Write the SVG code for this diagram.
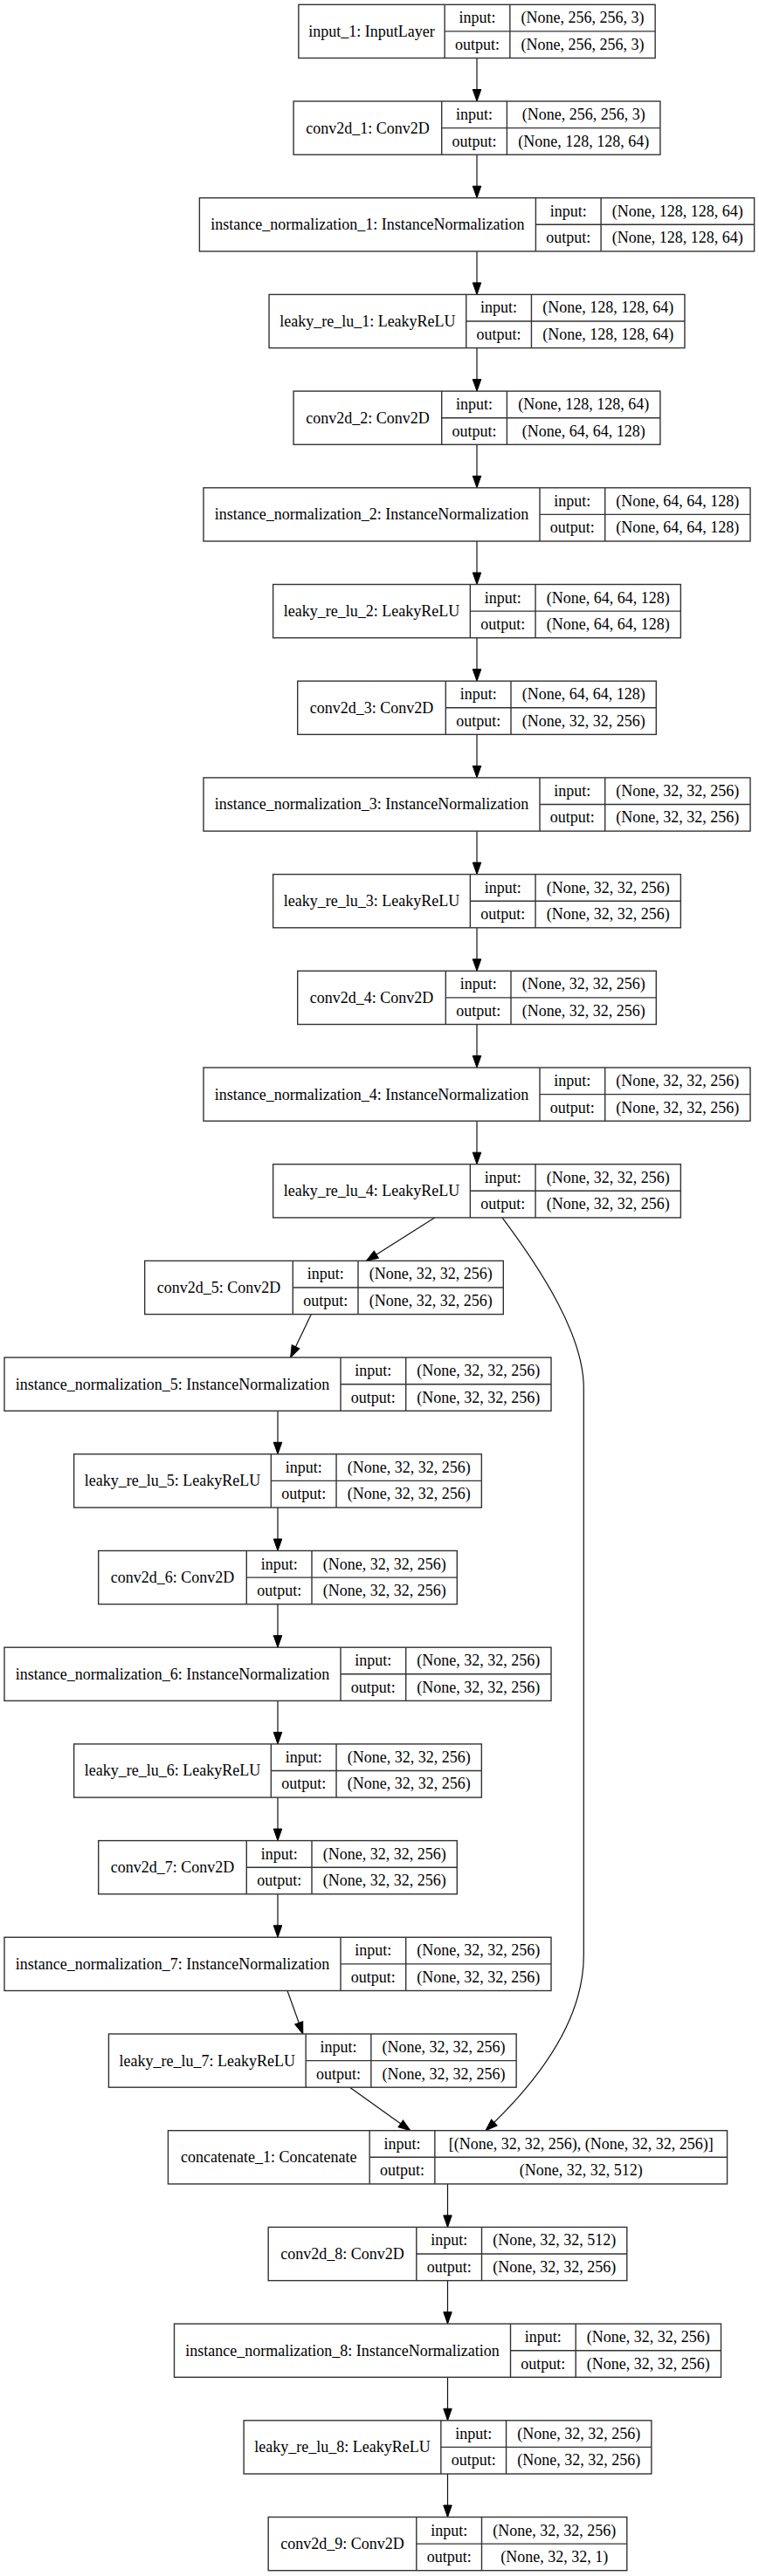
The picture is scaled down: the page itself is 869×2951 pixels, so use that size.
<svg xmlns="http://www.w3.org/2000/svg" width="869" height="2951" viewBox="0 0 869 2951">
<style>
.n rect{fill:#fff;stroke:#333;stroke-width:1.4}
.n line{stroke:#333;stroke-width:1.4}
text{font-family:"Liberation Serif","Times New Roman",serif;font-size:18px;text-anchor:middle;fill:#000}
.e{fill:none;stroke:#111;stroke-width:1.2;marker-end:url(#arr)}
</style>
<defs>
<marker id="arr" markerUnits="userSpaceOnUse" markerWidth="14" markerHeight="10" refX="13.5" refY="4.75" orient="auto" overflow="visible">
<path d="M0,0 L13.5,4.75 L0,9.5 Z" fill="#000" stroke="#000" stroke-width="1"/>
</marker>
</defs>
<rect width="869" height="2951" fill="#fff"/>
<g id="edges">
<path class="e" d="M546,66.5 V116"/>
<path class="e" d="M546,177.2 V226.7"/>
<path class="e" d="M546,287.9 V337.4"/>
<path class="e" d="M546,398.6 V448.1"/>
<path class="e" d="M546,509.3 V558.8"/>
<path class="e" d="M546,620 V669.5"/>
<path class="e" d="M546,730.7 V780.2"/>
<path class="e" d="M546,841.4 V890.9"/>
<path class="e" d="M546,952.1 V1001.6"/>
<path class="e" d="M546,1062.8 V1112.3"/>
<path class="e" d="M546,1173.5 V1223"/>
<path class="e" d="M546,1284.2 V1333.7"/>
<path class="e" d="M497.6,1394.9 L419.4,1444.4"/>
<path class="e" d="M356.35,1505.6 L332.65,1555.1"/>
<path class="e" d="M318,1616.3 V1665.8"/>
<path class="e" d="M318,1727 V1776.5"/>
<path class="e" d="M318,1837.7 V1887.2"/>
<path class="e" d="M318,1948.4 V1997.9"/>
<path class="e" d="M318,2059.1 V2108.6"/>
<path class="e" d="M318,2169.8 V2219.3"/>
<path class="e" d="M329,2280.5 L346.8,2330"/>
<path class="e" d="M400.6,2391.2 L469.75,2440.7"/>
<path class="e" d="M575,1394.9 C620,1455 668.3,1530 668.3,1590 L668.3,2240 C668.3,2320 610,2390 556,2440.7"/>
<path class="e" d="M512.5,2501.9 V2551.4"/>
<path class="e" d="M512.5,2612.6 V2662.1"/>
<path class="e" d="M512.5,2723.3 V2772.8"/>
<path class="e" d="M512.5,2834 V2883.5"/>
</g>

<g id="input_1" class="n" transform="translate(341.85,5.3)">
<rect width="408.3" height="61.2"/><line x1="167.3" y1="0" x2="167.3" y2="61.2"/><line x1="242" y1="0" x2="242" y2="61.2"/><line x1="167.3" y1="30.6" x2="408.3" y2="30.6"/>
<text x="83.65" y="36.6">input_1: InputLayer</text><text x="204.65" y="21">input:</text><text x="204.65" y="51.5">output:</text>
<text x="325.15" y="21">(None, 256, 256, 3)</text><text x="325.15" y="51.5">(None, 256, 256, 3)</text>
</g>

<g id="conv2d_1" class="n" transform="translate(336.1,116)">
<rect width="419.8" height="61.2"/><line x1="169.6" y1="0" x2="169.6" y2="61.2"/><line x1="244.3" y1="0" x2="244.3" y2="61.2"/><line x1="169.6" y1="30.6" x2="419.8" y2="30.6"/>
<text x="84.8" y="36.6">conv2d_1: Conv2D</text><text x="206.95" y="21">input:</text><text x="206.95" y="51.5">output:</text>
<text x="332.05" y="21">(None, 256, 256, 3)</text><text x="332.05" y="51.5">(None, 128, 128, 64)</text>
</g>

<g id="instance_normalization_1" class="n" transform="translate(228.4,226.7)">
<rect width="635.2" height="61.2"/><line x1="385" y1="0" x2="385" y2="61.2"/><line x1="459.7" y1="0" x2="459.7" y2="61.2"/><line x1="385" y1="30.6" x2="635.2" y2="30.6"/>
<text x="192.5" y="36.6">instance_normalization_1: InstanceNormalization</text><text x="422.35" y="21">input:</text><text x="422.35" y="51.5">output:</text>
<text x="547.45" y="21">(None, 128, 128, 64)</text><text x="547.45" y="51.5">(None, 128, 128, 64)</text>
</g>

<g id="leaky_re_lu_1" class="n" transform="translate(308.05,337.4)">
<rect width="475.9" height="61.2"/><line x1="225.7" y1="0" x2="225.7" y2="61.2"/><line x1="300.4" y1="0" x2="300.4" y2="61.2"/><line x1="225.7" y1="30.6" x2="475.9" y2="30.6"/>
<text x="112.85" y="36.6">leaky_re_lu_1: LeakyReLU</text><text x="263.05" y="21">input:</text><text x="263.05" y="51.5">output:</text>
<text x="388.15" y="21">(None, 128, 128, 64)</text><text x="388.15" y="51.5">(None, 128, 128, 64)</text>
</g>

<g id="conv2d_2" class="n" transform="translate(336.1,448.1)">
<rect width="419.8" height="61.2"/><line x1="169.6" y1="0" x2="169.6" y2="61.2"/><line x1="244.3" y1="0" x2="244.3" y2="61.2"/><line x1="169.6" y1="30.6" x2="419.8" y2="30.6"/>
<text x="84.8" y="36.6">conv2d_2: Conv2D</text><text x="206.95" y="21">input:</text><text x="206.95" y="51.5">output:</text>
<text x="332.05" y="21">(None, 128, 128, 64)</text><text x="332.05" y="51.5">(None, 64, 64, 128)</text>
</g>

<g id="instance_normalization_2" class="n" transform="translate(233,558.8)">
<rect width="626" height="61.2"/><line x1="385" y1="0" x2="385" y2="61.2"/><line x1="459.7" y1="0" x2="459.7" y2="61.2"/><line x1="385" y1="30.6" x2="626" y2="30.6"/>
<text x="192.5" y="36.6">instance_normalization_2: InstanceNormalization</text><text x="422.35" y="21">input:</text><text x="422.35" y="51.5">output:</text>
<text x="542.85" y="21">(None, 64, 64, 128)</text><text x="542.85" y="51.5">(None, 64, 64, 128)</text>
</g>

<g id="leaky_re_lu_2" class="n" transform="translate(312.65,669.5)">
<rect width="466.7" height="61.2"/><line x1="225.7" y1="0" x2="225.7" y2="61.2"/><line x1="300.4" y1="0" x2="300.4" y2="61.2"/><line x1="225.7" y1="30.6" x2="466.7" y2="30.6"/>
<text x="112.85" y="36.6">leaky_re_lu_2: LeakyReLU</text><text x="263.05" y="21">input:</text><text x="263.05" y="51.5">output:</text>
<text x="383.55" y="21">(None, 64, 64, 128)</text><text x="383.55" y="51.5">(None, 64, 64, 128)</text>
</g>

<g id="conv2d_3" class="n" transform="translate(340.7,780.2)">
<rect width="410.6" height="61.2"/><line x1="169.6" y1="0" x2="169.6" y2="61.2"/><line x1="244.3" y1="0" x2="244.3" y2="61.2"/><line x1="169.6" y1="30.6" x2="410.6" y2="30.6"/>
<text x="84.8" y="36.6">conv2d_3: Conv2D</text><text x="206.95" y="21">input:</text><text x="206.95" y="51.5">output:</text>
<text x="327.45" y="21">(None, 64, 64, 128)</text><text x="327.45" y="51.5">(None, 32, 32, 256)</text>
</g>

<g id="instance_normalization_3" class="n" transform="translate(233,890.9)">
<rect width="626" height="61.2"/><line x1="385" y1="0" x2="385" y2="61.2"/><line x1="459.7" y1="0" x2="459.7" y2="61.2"/><line x1="385" y1="30.6" x2="626" y2="30.6"/>
<text x="192.5" y="36.6">instance_normalization_3: InstanceNormalization</text><text x="422.35" y="21">input:</text><text x="422.35" y="51.5">output:</text>
<text x="542.85" y="21">(None, 32, 32, 256)</text><text x="542.85" y="51.5">(None, 32, 32, 256)</text>
</g>

<g id="leaky_re_lu_3" class="n" transform="translate(312.65,1001.6)">
<rect width="466.7" height="61.2"/><line x1="225.7" y1="0" x2="225.7" y2="61.2"/><line x1="300.4" y1="0" x2="300.4" y2="61.2"/><line x1="225.7" y1="30.6" x2="466.7" y2="30.6"/>
<text x="112.85" y="36.6">leaky_re_lu_3: LeakyReLU</text><text x="263.05" y="21">input:</text><text x="263.05" y="51.5">output:</text>
<text x="383.55" y="21">(None, 32, 32, 256)</text><text x="383.55" y="51.5">(None, 32, 32, 256)</text>
</g>

<g id="conv2d_4" class="n" transform="translate(340.7,1112.3)">
<rect width="410.6" height="61.2"/><line x1="169.6" y1="0" x2="169.6" y2="61.2"/><line x1="244.3" y1="0" x2="244.3" y2="61.2"/><line x1="169.6" y1="30.6" x2="410.6" y2="30.6"/>
<text x="84.8" y="36.6">conv2d_4: Conv2D</text><text x="206.95" y="21">input:</text><text x="206.95" y="51.5">output:</text>
<text x="327.45" y="21">(None, 32, 32, 256)</text><text x="327.45" y="51.5">(None, 32, 32, 256)</text>
</g>

<g id="instance_normalization_4" class="n" transform="translate(233,1223)">
<rect width="626" height="61.2"/><line x1="385" y1="0" x2="385" y2="61.2"/><line x1="459.7" y1="0" x2="459.7" y2="61.2"/><line x1="385" y1="30.6" x2="626" y2="30.6"/>
<text x="192.5" y="36.6">instance_normalization_4: InstanceNormalization</text><text x="422.35" y="21">input:</text><text x="422.35" y="51.5">output:</text>
<text x="542.85" y="21">(None, 32, 32, 256)</text><text x="542.85" y="51.5">(None, 32, 32, 256)</text>
</g>

<g id="leaky_re_lu_4" class="n" transform="translate(312.65,1333.7)">
<rect width="466.7" height="61.2"/><line x1="225.7" y1="0" x2="225.7" y2="61.2"/><line x1="300.4" y1="0" x2="300.4" y2="61.2"/><line x1="225.7" y1="30.6" x2="466.7" y2="30.6"/>
<text x="112.85" y="36.6">leaky_re_lu_4: LeakyReLU</text><text x="263.05" y="21">input:</text><text x="263.05" y="51.5">output:</text>
<text x="383.55" y="21">(None, 32, 32, 256)</text><text x="383.55" y="51.5">(None, 32, 32, 256)</text>
</g>

<g id="conv2d_5" class="n" transform="translate(165.7,1444.4)">
<rect width="410.6" height="61.2"/><line x1="169.6" y1="0" x2="169.6" y2="61.2"/><line x1="244.3" y1="0" x2="244.3" y2="61.2"/><line x1="169.6" y1="30.6" x2="410.6" y2="30.6"/>
<text x="84.8" y="36.6">conv2d_5: Conv2D</text><text x="206.95" y="21">input:</text><text x="206.95" y="51.5">output:</text>
<text x="327.45" y="21">(None, 32, 32, 256)</text><text x="327.45" y="51.5">(None, 32, 32, 256)</text>
</g>

<g id="instance_normalization_5" class="n" transform="translate(5,1555.1)">
<rect width="626" height="61.2"/><line x1="385" y1="0" x2="385" y2="61.2"/><line x1="459.7" y1="0" x2="459.7" y2="61.2"/><line x1="385" y1="30.6" x2="626" y2="30.6"/>
<text x="192.5" y="36.6">instance_normalization_5: InstanceNormalization</text><text x="422.35" y="21">input:</text><text x="422.35" y="51.5">output:</text>
<text x="542.85" y="21">(None, 32, 32, 256)</text><text x="542.85" y="51.5">(None, 32, 32, 256)</text>
</g>

<g id="leaky_re_lu_5" class="n" transform="translate(84.65,1665.8)">
<rect width="466.7" height="61.2"/><line x1="225.7" y1="0" x2="225.7" y2="61.2"/><line x1="300.4" y1="0" x2="300.4" y2="61.2"/><line x1="225.7" y1="30.6" x2="466.7" y2="30.6"/>
<text x="112.85" y="36.6">leaky_re_lu_5: LeakyReLU</text><text x="263.05" y="21">input:</text><text x="263.05" y="51.5">output:</text>
<text x="383.55" y="21">(None, 32, 32, 256)</text><text x="383.55" y="51.5">(None, 32, 32, 256)</text>
</g>

<g id="conv2d_6" class="n" transform="translate(112.7,1776.5)">
<rect width="410.6" height="61.2"/><line x1="169.6" y1="0" x2="169.6" y2="61.2"/><line x1="244.3" y1="0" x2="244.3" y2="61.2"/><line x1="169.6" y1="30.6" x2="410.6" y2="30.6"/>
<text x="84.8" y="36.6">conv2d_6: Conv2D</text><text x="206.95" y="21">input:</text><text x="206.95" y="51.5">output:</text>
<text x="327.45" y="21">(None, 32, 32, 256)</text><text x="327.45" y="51.5">(None, 32, 32, 256)</text>
</g>

<g id="instance_normalization_6" class="n" transform="translate(5,1887.2)">
<rect width="626" height="61.2"/><line x1="385" y1="0" x2="385" y2="61.2"/><line x1="459.7" y1="0" x2="459.7" y2="61.2"/><line x1="385" y1="30.6" x2="626" y2="30.6"/>
<text x="192.5" y="36.6">instance_normalization_6: InstanceNormalization</text><text x="422.35" y="21">input:</text><text x="422.35" y="51.5">output:</text>
<text x="542.85" y="21">(None, 32, 32, 256)</text><text x="542.85" y="51.5">(None, 32, 32, 256)</text>
</g>

<g id="leaky_re_lu_6" class="n" transform="translate(84.65,1997.9)">
<rect width="466.7" height="61.2"/><line x1="225.7" y1="0" x2="225.7" y2="61.2"/><line x1="300.4" y1="0" x2="300.4" y2="61.2"/><line x1="225.7" y1="30.6" x2="466.7" y2="30.6"/>
<text x="112.85" y="36.6">leaky_re_lu_6: LeakyReLU</text><text x="263.05" y="21">input:</text><text x="263.05" y="51.5">output:</text>
<text x="383.55" y="21">(None, 32, 32, 256)</text><text x="383.55" y="51.5">(None, 32, 32, 256)</text>
</g>

<g id="conv2d_7" class="n" transform="translate(112.7,2108.6)">
<rect width="410.6" height="61.2"/><line x1="169.6" y1="0" x2="169.6" y2="61.2"/><line x1="244.3" y1="0" x2="244.3" y2="61.2"/><line x1="169.6" y1="30.6" x2="410.6" y2="30.6"/>
<text x="84.8" y="36.6">conv2d_7: Conv2D</text><text x="206.95" y="21">input:</text><text x="206.95" y="51.5">output:</text>
<text x="327.45" y="21">(None, 32, 32, 256)</text><text x="327.45" y="51.5">(None, 32, 32, 256)</text>
</g>

<g id="instance_normalization_7" class="n" transform="translate(5,2219.3)">
<rect width="626" height="61.2"/><line x1="385" y1="0" x2="385" y2="61.2"/><line x1="459.7" y1="0" x2="459.7" y2="61.2"/><line x1="385" y1="30.6" x2="626" y2="30.6"/>
<text x="192.5" y="36.6">instance_normalization_7: InstanceNormalization</text><text x="422.35" y="21">input:</text><text x="422.35" y="51.5">output:</text>
<text x="542.85" y="21">(None, 32, 32, 256)</text><text x="542.85" y="51.5">(None, 32, 32, 256)</text>
</g>

<g id="leaky_re_lu_7" class="n" transform="translate(124.45,2330)">
<rect width="466.7" height="61.2"/><line x1="225.7" y1="0" x2="225.7" y2="61.2"/><line x1="300.4" y1="0" x2="300.4" y2="61.2"/><line x1="225.7" y1="30.6" x2="466.7" y2="30.6"/>
<text x="112.85" y="36.6">leaky_re_lu_7: LeakyReLU</text><text x="263.05" y="21">input:</text><text x="263.05" y="51.5">output:</text>
<text x="383.55" y="21">(None, 32, 32, 256)</text><text x="383.55" y="51.5">(None, 32, 32, 256)</text>
</g>

<g id="concatenate_1" class="n" transform="translate(192.45,2440.7)">
<rect width="640.1" height="61.2"/><line x1="230.7" y1="0" x2="230.7" y2="61.2"/><line x1="305.4" y1="0" x2="305.4" y2="61.2"/><line x1="230.7" y1="30.6" x2="640.1" y2="30.6"/>
<text x="115.35" y="36.6">concatenate_1: Concatenate</text><text x="268.05" y="21">input:</text><text x="268.05" y="51.5">output:</text>
<text x="472.75" y="21">[(None, 32, 32, 256), (None, 32, 32, 256)]</text><text x="472.75" y="51.5">(None, 32, 32, 512)</text>
</g>

<g id="conv2d_8" class="n" transform="translate(307.2,2551.4)">
<rect width="410.6" height="61.2"/><line x1="169.6" y1="0" x2="169.6" y2="61.2"/><line x1="244.3" y1="0" x2="244.3" y2="61.2"/><line x1="169.6" y1="30.6" x2="410.6" y2="30.6"/>
<text x="84.8" y="36.6">conv2d_8: Conv2D</text><text x="206.95" y="21">input:</text><text x="206.95" y="51.5">output:</text>
<text x="327.45" y="21">(None, 32, 32, 512)</text><text x="327.45" y="51.5">(None, 32, 32, 256)</text>
</g>

<g id="instance_normalization_8" class="n" transform="translate(199.5,2662.1)">
<rect width="626" height="61.2"/><line x1="385" y1="0" x2="385" y2="61.2"/><line x1="459.7" y1="0" x2="459.7" y2="61.2"/><line x1="385" y1="30.6" x2="626" y2="30.6"/>
<text x="192.5" y="36.6">instance_normalization_8: InstanceNormalization</text><text x="422.35" y="21">input:</text><text x="422.35" y="51.5">output:</text>
<text x="542.85" y="21">(None, 32, 32, 256)</text><text x="542.85" y="51.5">(None, 32, 32, 256)</text>
</g>

<g id="leaky_re_lu_8" class="n" transform="translate(279.15,2772.8)">
<rect width="466.7" height="61.2"/><line x1="225.7" y1="0" x2="225.7" y2="61.2"/><line x1="300.4" y1="0" x2="300.4" y2="61.2"/><line x1="225.7" y1="30.6" x2="466.7" y2="30.6"/>
<text x="112.85" y="36.6">leaky_re_lu_8: LeakyReLU</text><text x="263.05" y="21">input:</text><text x="263.05" y="51.5">output:</text>
<text x="383.55" y="21">(None, 32, 32, 256)</text><text x="383.55" y="51.5">(None, 32, 32, 256)</text>
</g>

<g id="conv2d_9" class="n" transform="translate(307.2,2883.5)">
<rect width="410.6" height="61.2"/><line x1="169.6" y1="0" x2="169.6" y2="61.2"/><line x1="244.3" y1="0" x2="244.3" y2="61.2"/><line x1="169.6" y1="30.6" x2="410.6" y2="30.6"/>
<text x="84.8" y="36.6">conv2d_9: Conv2D</text><text x="206.95" y="21">input:</text><text x="206.95" y="51.5">output:</text>
<text x="327.45" y="21">(None, 32, 32, 256)</text><text x="327.45" y="51.5">(None, 32, 32, 1)</text>
</g>
</svg>
